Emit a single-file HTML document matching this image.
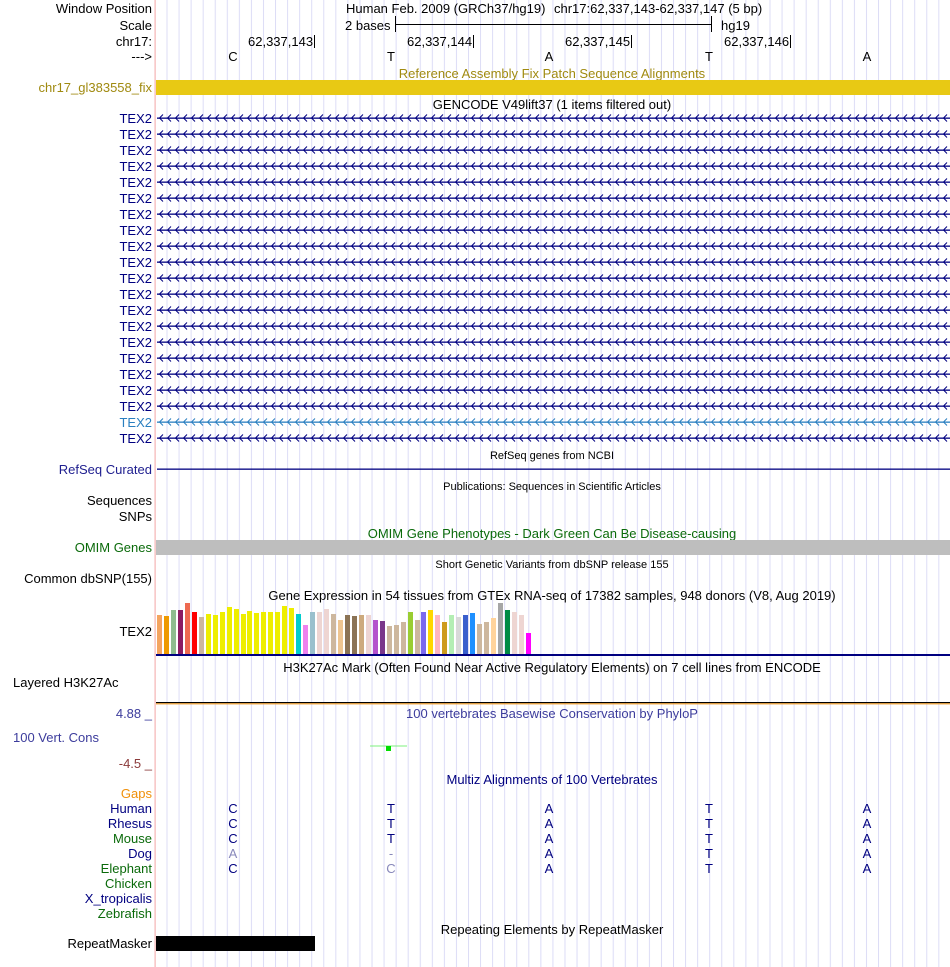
<!DOCTYPE html>
<html><head><meta charset="utf-8"><style>
html,body{margin:0;padding:0;background:#fff;}
svg{display:block;font-family:"Liberation Sans",sans-serif;}
</style></head><body>
<svg width="950" height="967" viewBox="0 0 950 967" xmlns="http://www.w3.org/2000/svg">
<defs>
<pattern id="grid" patternUnits="userSpaceOnUse" x="166.5" y="0" width="12.06" height="10"><rect x="0" y="0" width="1" height="10" fill="#dcdcf6"/></pattern>
<pattern id="chv" patternUnits="userSpaceOnUse" x="158" y="0" width="8" height="16"><path d="M5,2.5 L1.5,6 L5,9.5" fill="none" stroke="#000080"/></pattern>
<pattern id="chvL" patternUnits="userSpaceOnUse" x="158" y="0" width="8" height="16"><path d="M5,2.5 L1.5,6 L5,9.5" fill="none" stroke="#2a7fc0"/></pattern>
</defs>
<rect x="0" y="0" width="950" height="967" fill="#fff"/>
<rect x="156" y="0" width="794" height="967" fill="url(#grid)"/>
<rect x="154.5" y="0" width="1.2" height="967" fill="#f4b4b4"/>

<g font-size="13" fill="#000">
<text x="152" y="13" text-anchor="end">Window Position</text>
<text x="152" y="30" text-anchor="end">Scale</text>
<text x="152" y="46" text-anchor="end">chr17:</text>
<text x="152" y="61" text-anchor="end">---&gt;</text>
<text x="346" y="13">Human Feb. 2009 (GRCh37/hg19)</text>
<text x="554" y="13">chr17:62,337,143-62,337,147 (5 bp)</text>
<text x="345" y="30">2 bases</text>
<text x="721" y="30">hg19</text>
<text x="248" y="46">62,337,143</text>
<text x="407" y="46">62,337,144</text>
<text x="565" y="46">62,337,145</text>
<text x="724" y="46">62,337,146</text>
<text x="233" y="61" text-anchor="middle">C</text>
<text x="391" y="61" text-anchor="middle">T</text>
<text x="549" y="61" text-anchor="middle">A</text>
<text x="709" y="61" text-anchor="middle">T</text>
<text x="867" y="61" text-anchor="middle">A</text>
</g>
<g stroke="#000" stroke-width="1">
<line x1="395.5" y1="16" x2="395.5" y2="32"/><line x1="711.5" y1="16" x2="711.5" y2="32"/><line x1="395" y1="24.5" x2="712" y2="24.5"/>
<line x1="314.5" y1="35" x2="314.5" y2="48"/><line x1="473.5" y1="35" x2="473.5" y2="48"/><line x1="631.5" y1="35" x2="631.5" y2="48"/><line x1="790.5" y1="35" x2="790.5" y2="48"/>
</g>

<text x="552" y="78" font-size="13" fill="#a08a10" text-anchor="middle">Reference Assembly Fix Patch Sequence Alignments</text>
<text x="152" y="92" font-size="13" fill="#a08a10" text-anchor="end">chr17_gl383558_fix</text>
<rect x="156" y="80" width="794" height="15" fill="#e8c914"/>
<text x="552" y="109" font-size="13" text-anchor="middle">GENCODE V49lift37 (1 items filtered out)</text>

<g font-size="13" fill="#000080" text-anchor="end">
<text x="152" y="123">TEX2</text><text x="152" y="139">TEX2</text><text x="152" y="155">TEX2</text><text x="152" y="171">TEX2</text><text x="152" y="187">TEX2</text><text x="152" y="203">TEX2</text><text x="152" y="219">TEX2</text><text x="152" y="235">TEX2</text><text x="152" y="251">TEX2</text><text x="152" y="267">TEX2</text><text x="152" y="283">TEX2</text><text x="152" y="299">TEX2</text><text x="152" y="315">TEX2</text><text x="152" y="331">TEX2</text><text x="152" y="347">TEX2</text><text x="152" y="363">TEX2</text><text x="152" y="379">TEX2</text><text x="152" y="395">TEX2</text><text x="152" y="411">TEX2</text><text x="152" y="427" fill="#2a7fc0">TEX2</text><text x="152" y="443">TEX2</text>
</g>
<rect x="157" y="112" width="793" height="304" fill="url(#chv)"/>
<rect x="157" y="416" width="793" height="12" fill="url(#chvL)"/>
<rect x="157" y="432" width="793" height="12" fill="url(#chv)"/>
<g fill="#000080">
<rect x="157" y="117.5" width="793" height="1.3"/><rect x="157" y="133.5" width="793" height="1.3"/><rect x="157" y="149.5" width="793" height="1.3"/><rect x="157" y="165.5" width="793" height="1.3"/><rect x="157" y="181.5" width="793" height="1.3"/><rect x="157" y="197.5" width="793" height="1.3"/><rect x="157" y="213.5" width="793" height="1.3"/><rect x="157" y="229.5" width="793" height="1.3"/><rect x="157" y="245.5" width="793" height="1.3"/><rect x="157" y="261.5" width="793" height="1.3"/><rect x="157" y="277.5" width="793" height="1.3"/><rect x="157" y="293.5" width="793" height="1.3"/><rect x="157" y="309.5" width="793" height="1.3"/><rect x="157" y="325.5" width="793" height="1.3"/><rect x="157" y="341.5" width="793" height="1.3"/><rect x="157" y="357.5" width="793" height="1.3"/><rect x="157" y="373.5" width="793" height="1.3"/><rect x="157" y="389.5" width="793" height="1.3"/><rect x="157" y="405.5" width="793" height="1.3"/><rect x="157" y="421.5" width="793" height="1.3" fill="#2a7fc0"/><rect x="157" y="437.5" width="793" height="1.3"/>
</g>

<text x="552" y="459" font-size="11" text-anchor="middle">RefSeq genes from NCBI</text>
<text x="152" y="474" font-size="13" fill="#202090" text-anchor="end">RefSeq Curated</text>
<rect x="157" y="468.5" width="793" height="1.3" fill="#000080"/>
<text x="552" y="490" font-size="11" text-anchor="middle">Publications: Sequences in Scientific Articles</text>
<text x="152" y="505" font-size="13" text-anchor="end">Sequences</text>
<text x="152" y="521" font-size="13" text-anchor="end">SNPs</text>
<text x="552" y="538" font-size="13" fill="#0a6a0a" text-anchor="middle">OMIM Gene Phenotypes - Dark Green Can Be Disease-causing</text>
<text x="152" y="552" font-size="13" fill="#0a6a0a" text-anchor="end">OMIM Genes</text>
<rect x="156" y="540" width="794" height="15" fill="#bebebe"/>
<text x="552" y="568" font-size="11" text-anchor="middle">Short Genetic Variants from dbSNP release 155</text>
<text x="152" y="583" font-size="13" text-anchor="end">Common dbSNP(155)</text>
<text x="552" y="600" font-size="13" text-anchor="middle">Gene Expression in 54 tissues from GTEx RNA-seq of 17382 samples, 948 donors (V8, Aug 2019)</text>
<text x="152" y="636" font-size="13" text-anchor="end">TEX2</text>

<g>
<rect x="157" y="615" width="5" height="39" fill="#f4a460"/>
<rect x="164" y="616" width="5" height="38" fill="#ee9a00"/>
<rect x="171" y="610" width="5" height="44" fill="#8fbc8f"/>
<rect x="178" y="610" width="5" height="44" fill="#8b1c62"/>
<rect x="185" y="603" width="5" height="51" fill="#ee6a50"/>
<rect x="192" y="612" width="5" height="42" fill="#ff0000"/>
<rect x="199" y="617" width="5" height="37" fill="#cdb79e"/>
<rect x="206" y="614" width="5" height="40" fill="#eeee00"/>
<rect x="213" y="615" width="5" height="39" fill="#eeee00"/>
<rect x="220" y="612" width="5" height="42" fill="#eeee00"/>
<rect x="227" y="607" width="5" height="47" fill="#eeee00"/>
<rect x="234" y="609" width="5" height="45" fill="#eeee00"/>
<rect x="241" y="614" width="5" height="40" fill="#eeee00"/>
<rect x="247" y="611" width="5" height="43" fill="#eeee00"/>
<rect x="254" y="613" width="5" height="41" fill="#eeee00"/>
<rect x="261" y="612" width="5" height="42" fill="#eeee00"/>
<rect x="268" y="612" width="5" height="42" fill="#eeee00"/>
<rect x="275" y="612" width="5" height="42" fill="#eeee00"/>
<rect x="282" y="606" width="5" height="48" fill="#eeee00"/>
<rect x="289" y="608" width="5" height="46" fill="#eeee00"/>
<rect x="296" y="614" width="5" height="40" fill="#00cdcd"/>
<rect x="303" y="625" width="5" height="29" fill="#ee82ee"/>
<rect x="310" y="612" width="5" height="42" fill="#9ac0cd"/>
<rect x="317" y="612" width="5" height="42" fill="#eed5d2"/>
<rect x="324" y="609" width="5" height="45" fill="#eed5d2"/>
<rect x="331" y="614" width="5" height="40" fill="#cdb79e"/>
<rect x="338" y="620" width="5" height="34" fill="#eec591"/>
<rect x="345" y="615" width="5" height="39" fill="#8b7355"/>
<rect x="352" y="616" width="5" height="38" fill="#8b7355"/>
<rect x="359" y="615" width="5" height="39" fill="#cdaa7d"/>
<rect x="366" y="615" width="5" height="39" fill="#eed5d2"/>
<rect x="373" y="620" width="5" height="34" fill="#b452cd"/>
<rect x="380" y="621" width="5" height="33" fill="#7a378b"/>
<rect x="387" y="626" width="5" height="28" fill="#cdb79e"/>
<rect x="394" y="625" width="5" height="29" fill="#cdb79e"/>
<rect x="401" y="622" width="5" height="32" fill="#cdb79e"/>
<rect x="408" y="612" width="5" height="42" fill="#9acd32"/>
<rect x="415" y="620" width="5" height="34" fill="#cdb79e"/>
<rect x="421" y="612" width="5" height="42" fill="#7b68ee"/>
<rect x="428" y="610" width="5" height="44" fill="#ffd700"/>
<rect x="435" y="615" width="5" height="39" fill="#ffb6c1"/>
<rect x="442" y="622" width="5" height="32" fill="#cd9b1d"/>
<rect x="449" y="615" width="5" height="39" fill="#b4eeb4"/>
<rect x="456" y="617" width="5" height="37" fill="#d9d9d9"/>
<rect x="463" y="615" width="5" height="39" fill="#3a5fcd"/>
<rect x="470" y="613" width="5" height="41" fill="#1e90ff"/>
<rect x="477" y="624" width="5" height="30" fill="#cdb79e"/>
<rect x="484" y="622" width="5" height="32" fill="#cdb79e"/>
<rect x="491" y="618" width="5" height="36" fill="#ffd39b"/>
<rect x="498" y="603" width="5" height="51" fill="#a6a6a6"/>
<rect x="505" y="610" width="5" height="44" fill="#008b45"/>
<rect x="512" y="612" width="5" height="42" fill="#eed5d2"/>
<rect x="519" y="615" width="5" height="39" fill="#eed5d2"/>
<rect x="526" y="633" width="5" height="21" fill="#ff00ff"/>
</g>
<rect x="156" y="654" width="794" height="2" fill="#000080"/>

<text x="552" y="672" font-size="13" text-anchor="middle">H3K27Ac Mark (Often Found Near Active Regulatory Elements) on 7 cell lines from ENCODE</text>
<text x="13" y="687" font-size="13">Layered H3K27Ac</text>
<rect x="156" y="702" width="794" height="1.2" fill="#000"/>
<rect x="156" y="703.2" width="794" height="1.2" fill="#f0a030"/>

<text x="552" y="718" font-size="13" fill="#3c3c9c" text-anchor="middle">100 vertebrates Basewise Conservation by PhyloP</text>
<text x="152" y="718" font-size="13" fill="#3c3c9c" text-anchor="end">4.88 _</text>
<text x="13" y="742" font-size="13" fill="#3c3c9c">100 Vert. Cons</text>
<text x="152" y="768" font-size="13" fill="#8b3a3a" text-anchor="end">-4.5 _</text>
<rect x="370" y="745.5" width="37" height="1" fill="#7cf07c"/>
<rect x="386" y="746" width="5" height="5" fill="#00dd00"/>

<text x="552" y="784" font-size="13" fill="#000080" text-anchor="middle">Multiz Alignments of 100 Vertebrates</text>
<g font-size="13" text-anchor="end">
<text x="152" y="798" fill="#f0900a">Gaps</text>
<text x="152" y="813" fill="#000080">Human</text>
<text x="152" y="828" fill="#000080">Rhesus</text>
<text x="152" y="843" fill="#0a6a0a">Mouse</text>
<text x="152" y="858" fill="#000080">Dog</text>
<text x="152" y="873" fill="#0a6a0a">Elephant</text>
<text x="152" y="888" fill="#0a6a0a">Chicken</text>
<text x="152" y="903" fill="#000080">X_tropicalis</text>
<text x="152" y="918" fill="#0a6a0a">Zebrafish</text>
</g>
<g font-size="13" fill="#000080" text-anchor="middle">
<text x="233" y="813">C</text><text x="391" y="813">T</text><text x="549" y="813">A</text><text x="709" y="813">T</text><text x="867" y="813">A</text>
<text x="233" y="828">C</text><text x="391" y="828">T</text><text x="549" y="828">A</text><text x="709" y="828">T</text><text x="867" y="828">A</text>
<text x="233" y="843">C</text><text x="391" y="843">T</text><text x="549" y="843">A</text><text x="709" y="843">T</text><text x="867" y="843">A</text>
<text x="233" y="858" fill="#8888bb">A</text><text x="391" y="858" fill="#8888bb">-</text><text x="549" y="858">A</text><text x="709" y="858">T</text><text x="867" y="858">A</text>
<text x="233" y="873">C</text><text x="391" y="873" fill="#8888bb">C</text><text x="549" y="873">A</text><text x="709" y="873">T</text><text x="867" y="873">A</text>
</g>

<text x="552" y="934" font-size="13" text-anchor="middle">Repeating Elements by RepeatMasker</text>
<text x="152" y="948" font-size="13" text-anchor="end">RepeatMasker</text>
<rect x="156" y="936" width="159" height="15" fill="#000"/>
</svg>
</body></html>
